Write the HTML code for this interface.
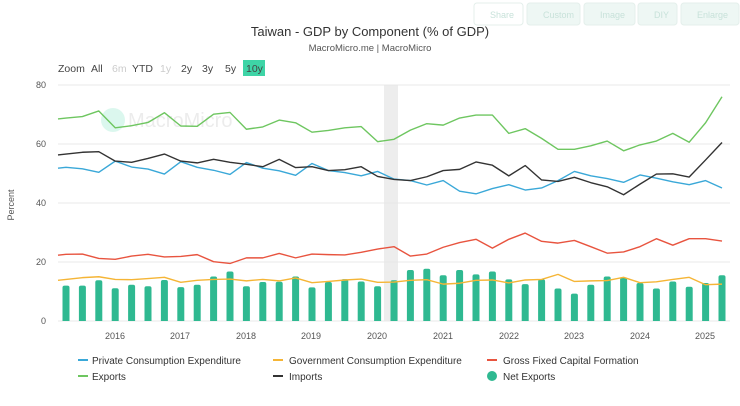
<!DOCTYPE html>
<html><head><meta charset="utf-8"><style>
body{margin:0;background:#fff;font-family:"Liberation Sans",sans-serif;}
svg{display:block}
</style></head><body>
<svg id="s" width="740" height="406" xmlns="http://www.w3.org/2000/svg" font-family="Liberation Sans, sans-serif">
<g fill="#eef7f4" stroke="#e4efeb">
<rect x="474" y="3" width="49" height="22" rx="3" fill="#fff"/>
<rect x="527" y="3" width="53" height="22" rx="3"/>
<rect x="584" y="3" width="51" height="22" rx="3"/>
<rect x="638" y="3" width="39" height="22" rx="3"/>
<rect x="681" y="3" width="58" height="22" rx="3"/>
</g>
<g font-size="9" fill="#c8e2da"><text x="490" y="18">Share</text><text x="543" y="18">Custom</text><text x="600" y="18">Image</text><text x="654" y="18">DIY</text><text x="697" y="18">Enlarge</text></g>
<text x="370" y="36" font-size="13" text-anchor="middle" fill="#333">Taiwan - GDP by Component (% of GDP)</text>
<text x="370" y="51" font-size="9.5" text-anchor="middle" fill="#555">MacroMicro.me | MacroMicro</text>
<g font-size="10.5" fill="#444">
<text x="58" y="72">Zoom</text><text x="91" y="72">All</text>
<text x="112" y="72" fill="#ccc">6m</text><text x="132" y="72">YTD</text>
<text x="160" y="72" fill="#ccc">1y</text><text x="181" y="72">2y</text>
<text x="202" y="72">3y</text><text x="225" y="72">5y</text>
<rect x="243" y="60" width="22" height="16" fill="#3ed4a6"/>
<text x="246" y="72">10y</text>
</g>
<rect x="384" y="85" width="14" height="236" fill="#ededed"/>
<g stroke="#e8e8e8" stroke-width="1">
<line x1="58" x2="730" y1="85" y2="85"/><line x1="58" x2="730" y1="144" y2="144"/>
<line x1="58" x2="730" y1="203" y2="203"/><line x1="58" x2="730" y1="262" y2="262"/>
<line x1="58" x2="730" y1="321" y2="321"/>
</g>
<g font-size="9" fill="#555" text-anchor="end">
<text x="46" y="88">80</text><text x="46" y="147">60</text><text x="46" y="206">40</text><text x="46" y="265">20</text><text x="46" y="324">0</text>
</g>
<text transform="translate(14,205) rotate(-90)" font-size="9" fill="#555" text-anchor="middle">Percent</text>
<g font-size="9" fill="#555" text-anchor="middle">
<text x="115" y="339">2016</text><text x="180" y="339">2017</text><text x="246" y="339">2018</text><text x="311" y="339">2019</text><text x="377" y="339">2020</text><text x="443" y="339">2021</text><text x="509" y="339">2022</text><text x="574" y="339">2023</text><text x="640" y="339">2024</text><text x="705" y="339">2025</text>
</g>
<g opacity="0.18"><circle cx="113" cy="120" r="12" fill="#3ed4a6"/><text x="128" y="127" font-size="20" fill="#999">MacroMicro</text></g>
<g id="bars" fill="#2fb991"></g>
<g id="lines" fill="none" stroke-width="1.4" stroke-linejoin="round"></g>
<g font-size="10" fill="#333">
<line x1="78" x2="88" y1="360" y2="360" stroke="#3aa8d8" stroke-width="2"/><text x="92" y="364">Private Consumption Expenditure</text>
<line x1="273" x2="283" y1="360" y2="360" stroke="#f5b536" stroke-width="2"/><text x="289" y="364">Government Consumption Expenditure</text>
<line x1="487" x2="497" y1="360" y2="360" stroke="#e8543f" stroke-width="2"/><text x="503" y="364">Gross Fixed Capital Formation</text>
<line x1="78" x2="88" y1="376" y2="376" stroke="#6ec660" stroke-width="2"/><text x="92" y="380">Exports</text>
<line x1="273" x2="283" y1="376" y2="376" stroke="#333" stroke-width="2"/><text x="289" y="380">Imports</text>
<circle cx="492" cy="376" r="5" fill="#2fb991"/><text x="503" y="380">Net Exports</text>
</g>
</svg>
<script>
var ns="http://www.w3.org/2000/svg";
function X(k){return 66+16.4*k}function Y(v){return 321-v*2.95}
var S={
"#3aa8d8":[52.1,51.6,50.4,54.2,52.2,51.5,49.8,54.0,52.1,51.1,49.7,53.7,51.8,50.9,49.4,53.4,51.0,50.3,49.2,50.7,48.1,47.6,46.1,47.6,44.0,43.1,44.9,46.2,44.4,45.1,47.6,50.7,49.2,48.3,47.0,49.5,48.4,47.2,46.2,47.6,45.1],
"#f5b536":[14.1,14.7,15.0,14.1,14.0,14.4,14.8,13.1,13.8,14.1,14.2,13.6,14.1,13.6,14.6,13.0,13.4,13.9,14.2,13.1,13.2,13.8,14.0,12.5,12.8,13.8,13.9,12.9,13.9,14.1,15.8,13.4,13.6,13.7,14.8,13.0,13.3,14.1,14.8,12.3,12.5],
"#e8543f":[22.6,22.7,21.2,20.9,22.0,22.6,21.7,21.9,22.5,20.1,19.5,21.4,21.4,22.9,21.4,22.7,22.5,22.4,23.3,24.4,25.2,22.0,22.7,25.0,26.6,27.7,24.7,27.7,29.8,27.0,26.4,27.3,25.2,23.0,23.4,25.2,27.9,25.7,27.9,27.9,27.1],
"#6ec660":[68.8,69.3,71.2,65.5,66.2,67.3,70.6,66.1,66.0,70.1,70.7,65.0,65.8,68.1,67.2,64.0,64.6,65.5,65.9,60.8,61.6,64.7,66.9,66.4,68.8,69.8,69.8,63.6,65.2,61.9,58.2,58.2,59.4,61.0,57.7,59.7,61.0,63.6,60.6,67.2,76.0],
"#333":[56.6,57.2,57.4,54.2,53.8,55.1,56.6,54.2,53.6,54.8,53.8,53.1,52.3,54.8,52.0,52.3,51.0,51.3,52.3,49.0,48.0,47.6,48.9,51.0,51.4,53.9,52.8,49.2,52.7,47.8,47.3,48.7,46.9,45.5,42.8,46.4,49.8,49.9,48.8,54.6,60.5]};
var B=[12.0,12.0,13.8,11.1,12.3,11.8,13.9,11.5,12.3,15.1,16.8,11.8,13.2,13.3,15.1,11.4,13.2,14.2,13.4,11.8,13.8,17.3,17.7,15.5,17.3,15.8,16.8,14.1,12.5,14.1,11.0,9.3,12.3,15.1,14.7,12.9,11.0,13.4,11.6,12.9,15.5];
var bg=document.getElementById("bars");
B.forEach(function(v,k){var p=document.createElementNS(ns,"path");var x=X(k)-3.5,y=Y(v),w=7,r=2;
p.setAttribute("d","M"+x+",321V"+(y+r)+"Q"+x+","+y+" "+(x+r)+","+y+"H"+(x+w-r)+"Q"+(x+w)+","+y+" "+(x+w)+","+(y+r)+"V321Z");bg.appendChild(p);});
var lg=document.getElementById("lines");
for(var c in S){var a=S[c];var pts=["58,"+Y(a[0]-0.3)];a.forEach(function(v,k){pts.push(X(k)+","+Y(v))});
var l=document.createElementNS(ns,"polyline");l.setAttribute("points",pts.join(" "));l.setAttribute("stroke",c);lg.appendChild(l);}
</script>
</body></html>
